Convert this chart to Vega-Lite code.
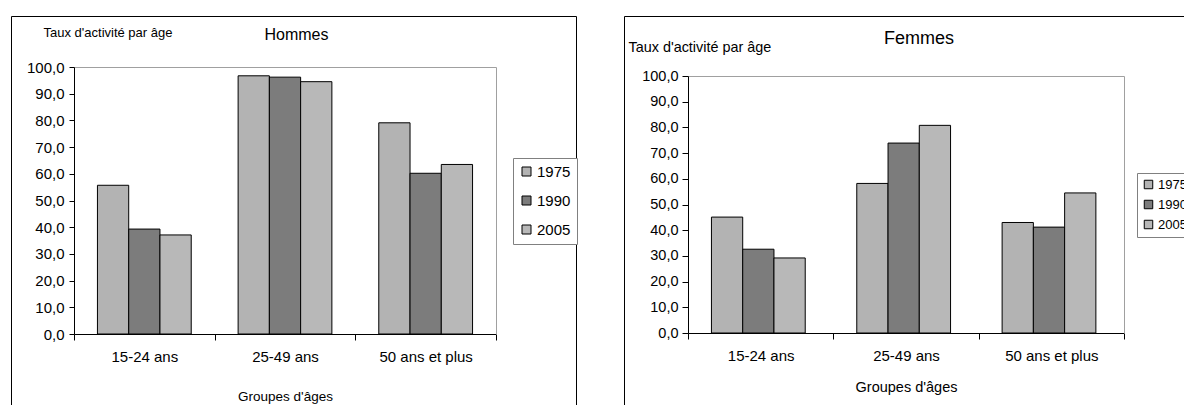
{
  "$schema": "https://vega.github.io/schema/vega-lite/v6.json",
  "padding": {"left": 10, "top": 15, "right": 0, "bottom": 0},
  "background": "white",
  "spacing": 45,
  "config": {
    "font": "Liberation Sans",
    "view": {"stroke": "black", "strokeWidth": 1},
    "axis": {"domainColor": "black", "tickColor": "black", "labelColor": "black", "titleColor": "black", "grid": false, "titleFontWeight": "normal"},
    "legend": {"titleFontWeight": "normal"}
  },
  "datasets": {
    "hommes": [
      {"groupe": "15-24 ans", "annee": "1975", "taux": 55.7},
      {"groupe": "15-24 ans", "annee": "1990", "taux": 39.3},
      {"groupe": "15-24 ans", "annee": "2005", "taux": 37.1},
      {"groupe": "25-49 ans", "annee": "1975", "taux": 96.7},
      {"groupe": "25-49 ans", "annee": "1990", "taux": 96.2},
      {"groupe": "25-49 ans", "annee": "2005", "taux": 94.5},
      {"groupe": "50 ans et plus", "annee": "1975", "taux": 79.1},
      {"groupe": "50 ans et plus", "annee": "1990", "taux": 60.2},
      {"groupe": "50 ans et plus", "annee": "2005", "taux": 63.5}
    ],
    "femmes": [
      {"groupe": "15-24 ans", "annee": "1975", "taux": 45.1},
      {"groupe": "15-24 ans", "annee": "1990", "taux": 32.6},
      {"groupe": "15-24 ans", "annee": "2005", "taux": 29.2},
      {"groupe": "25-49 ans", "annee": "1975", "taux": 58.2},
      {"groupe": "25-49 ans", "annee": "1990", "taux": 73.9},
      {"groupe": "25-49 ans", "annee": "2005", "taux": 80.8},
      {"groupe": "50 ans et plus", "annee": "1975", "taux": 43.0},
      {"groupe": "50 ans et plus", "annee": "1990", "taux": 41.2},
      {"groupe": "50 ans et plus", "annee": "2005", "taux": 54.5}
    ]
  },
  "hconcat": [
    {
      "width": 565,
      "height": 400,
      "title": {"text": "Hommes", "fontSize": 16, "fontWeight": "normal", "baseline": "alphabetic", "offset": -40, "frame": "group", "anchor": "middle", "dx": 3, "color": "black"},
      "data": {"name": "hommes"},
      "layer": [
        {
          "mark": {"type": "bar", "stroke": "black", "strokeWidth": 1},
          "encoding": {
            "x": {"field": "groupe", "type": "nominal", "sort": ["15-24 ans", "25-49 ans", "50 ans et plus"],
              "scale": {"range": [63, 485], "paddingInner": 0, "paddingOuter": 0},
              "axis": {"orient": "bottom", "offset": -82, "title": "Groupes d'âges", "labelAngle": 0, "labelFontSize": 15, "tickBand": "extent", "tickSize": 6, "labelPadding": 9, "titleFontSize": 13.5, "titleY": 66, "titleBaseline": "alphabetic"}},
            "xOffset": {"field": "annee", "type": "nominal", "scale": {"paddingOuter": 0.75, "paddingInner": 0}},
            "y": {"field": "taux", "type": "quantitative",
              "scale": {"domain": [0, 100], "range": [318, 51], "nice": false},
              "axis": {"orient": "left", "offset": -63, "values": [0, 10, 20, 30, 40, 50, 60, 70, 80, 90, 100], "labelExpr": "replace(format(datum.value,'.1f'),'.',',')", "labelFontSize": 15, "tickSize": 5, "labelPadding": 5, "title": "Taux d'activité par âge", "titleAngle": 0, "titleAlign": "left", "titleBaseline": "alphabetic", "titleX": -31, "titleY": 20, "titleFontSize": 13}},
            "color": {"field": "annee", "type": "nominal",
              "scale": {"domain": ["1975", "1990", "2005"], "range": ["#b3b3b3", "#7c7c7c", "#b8b8b8"]},
              "legend": {"orient": "none", "legendX": 502, "legendY": 142, "title": null, "symbolType": "square", "symbolSize": 81, "symbolStrokeColor": "black", "symbolStrokeWidth": 1, "symbolOpacity": 1, "labelFontSize": 15, "labelColor": "black", "rowPadding": 13, "padding": 6, "strokeColor": "#808080", "fillColor": "white", "labelOffset": 3}}
          }
        },
        {
          "mark": {"type": "bar", "opacity": 0},
          "encoding": {
            "x": {"field": "groupe", "type": "nominal", "sort": ["15-24 ans", "25-49 ans", "50 ans et plus"],
              "axis": {"orient": "top", "offset": -51, "domainColor": "#a0a0a0", "ticks": false, "labels": false, "title": null}},
            "xOffset": {"field": "annee", "type": "nominal"},
            "y": {"field": "taux", "type": "quantitative",
              "axis": {"orient": "right", "offset": -80, "domainColor": "#a0a0a0", "ticks": false, "labels": false, "title": null}}
          }
        }
      ],
      "resolve": {"axis": {"x": "independent", "y": "independent"}}
    },
    {
      "width": 580,
      "height": 400,
      "title": {"text": "Femmes", "fontSize": 18, "fontWeight": "normal", "baseline": "alphabetic", "offset": -46, "frame": "group", "anchor": "middle", "dx": 5, "color": "black"},
      "data": {"name": "femmes"},
      "layer": [
        {
          "mark": {"type": "bar", "stroke": "black", "strokeWidth": 1},
          "encoding": {
            "x": {"field": "groupe", "type": "nominal", "sort": ["15-24 ans", "25-49 ans", "50 ans et plus"],
              "scale": {"range": [64, 500], "paddingInner": 0, "paddingOuter": 0},
              "axis": {"orient": "bottom", "offset": -83, "title": "Groupes d'âges", "labelAngle": 0, "labelFontSize": 15, "tickBand": "extent", "tickSize": 6, "labelPadding": 9, "titleFontSize": 14.5, "titleY": 58, "titleBaseline": "alphabetic"}},
            "xOffset": {"field": "annee", "type": "nominal", "scale": {"paddingOuter": 0.75, "paddingInner": 0}},
            "y": {"field": "taux", "type": "quantitative",
              "scale": {"domain": [0, 100], "range": [317, 60], "nice": false},
              "axis": {"orient": "left", "offset": -64, "values": [0, 10, 20, 30, 40, 50, 60, 70, 80, 90, 100], "labelExpr": "replace(format(datum.value,'.1f'),'.',',')", "labelFontSize": 14.5, "tickSize": 6, "labelPadding": 4, "title": "Taux d'activité par âge", "titleAngle": 0, "titleAlign": "left", "titleBaseline": "alphabetic", "titleX": -60, "titleY": 35, "titleFontSize": 14.4}},
            "color": {"field": "annee", "type": "nominal",
              "scale": {"domain": ["1975", "1990", "2005"], "range": ["#b3b3b3", "#7c7c7c", "#b8b8b8"]},
              "legend": {"orient": "none", "legendX": 513, "legendY": 157, "title": null, "symbolType": "square", "symbolSize": 72, "symbolStrokeColor": "black", "symbolStrokeWidth": 1, "symbolOpacity": 1, "labelFontSize": 13, "labelColor": "black", "rowPadding": 6, "padding": 5, "strokeColor": "#808080", "fillColor": "white", "labelOffset": 3}}
          }
        },
        {
          "mark": {"type": "bar", "opacity": 0},
          "encoding": {
            "x": {"field": "groupe", "type": "nominal", "sort": ["15-24 ans", "25-49 ans", "50 ans et plus"],
              "axis": {"orient": "top", "offset": -60, "domainColor": "#a0a0a0", "ticks": false, "labels": false, "title": null}},
            "xOffset": {"field": "annee", "type": "nominal"},
            "y": {"field": "taux", "type": "quantitative",
              "axis": {"orient": "right", "offset": -80, "domainColor": "#a0a0a0", "ticks": false, "labels": false, "title": null}}
          }
        }
      ],
      "resolve": {"axis": {"x": "independent", "y": "independent"}}
    }
  ],
  "resolve": {"scale": {"color": "independent"}}
}
